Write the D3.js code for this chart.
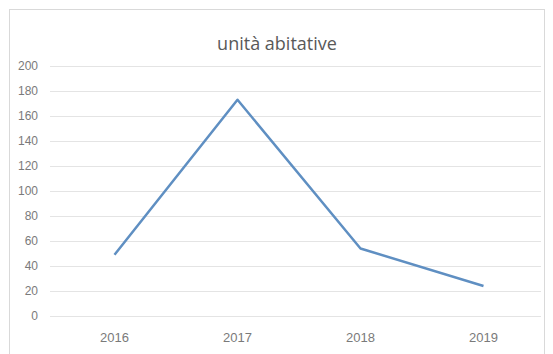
<!DOCTYPE html>
<html>
<head>
<meta charset="utf-8">
<script src="https://cdn.jsdelivr.net/npm/d3@7"></script>
<style>
  body { margin: 0; background: #fff; }
  svg { display: block; font-family: "Open Sans", "Noto Sans", sans-serif; }
  .grid line { stroke: #e4e4e4; stroke-width: 1; }
  .tick text { fill: #7a7a7a; font-size: 12px; }
  .line { fill: none; stroke: #5f8fc2; stroke-width: 2.5; stroke-linejoin: round; }
</style>
</head>
<body>
<script>
// data
const years = ["2016", "2017", "2018", "2019"];
const units = [49, 173, 54, 24];
const yTicks = [0, 20, 40, 60, 80, 100, 120, 140, 160, 180, 200];
const title = "unità abitative";

const W = 553, H = 354;
const plot = { left: 50, right: 541, top: 66, bottom: 316 };

const svg = d3.select("body").append("svg")
    .attr("width", W)
    .attr("height", H);

// chart frame
svg.append("rect")
    .attr("x", 9.5).attr("y", 9.5)
    .attr("width", 535).attr("height", 360)
    .attr("fill", "#fff")
    .attr("stroke", "#d9d9d9");

svg.append("text")
    .attr("x", 277).attr("y", 50)
    .attr("text-anchor", "middle")
    .attr("fill", "#595959")
    .style("font-size", "18px")
    .text(title);

// categories sit slightly right of the gridline span, like the original
const xScale = d3.scaleBand().domain(years).range([53, 545]);
const yScale = d3.scaleLinear().domain([0, 200]).range([plot.bottom, plot.top]);

// gridlines
svg.append("g")
    .attr("class", "grid")
    .selectAll("line")
    .data(yTicks)
    .enter()
    .append("line")
    .attr("x1", plot.left).attr("x2", plot.right)
    .attr("y1", d => Math.round(yScale(d)) + 0.5)
    .attr("y2", d => Math.round(yScale(d)) + 0.5);

const yAxis = d3.axisLeft(yScale).tickValues(yTicks).tickSize(0).tickPadding(12);
svg.append("g")
    .attr("transform", "translate(" + plot.left + ",0)")
    .call(yAxis)
    .call(g => g.select(".domain").remove());

const xAxis = d3.axisBottom(xScale).tickSize(0).tickPadding(17);
svg.append("g")
    .attr("transform", "translate(0," + plot.bottom + ")")
    .call(xAxis)
    .call(g => g.select(".domain").remove())
    .selectAll("text").style("font-size", "13px");

const valueline = d3.line()
    .x((d, i) => xScale(years[i]) + xScale.bandwidth() / 2)
    .y(d => yScale(d));

svg.append("path")
    .datum(units)
    .attr("class", "line")
    .attr("d", valueline);
</script>
</body>
</html>
